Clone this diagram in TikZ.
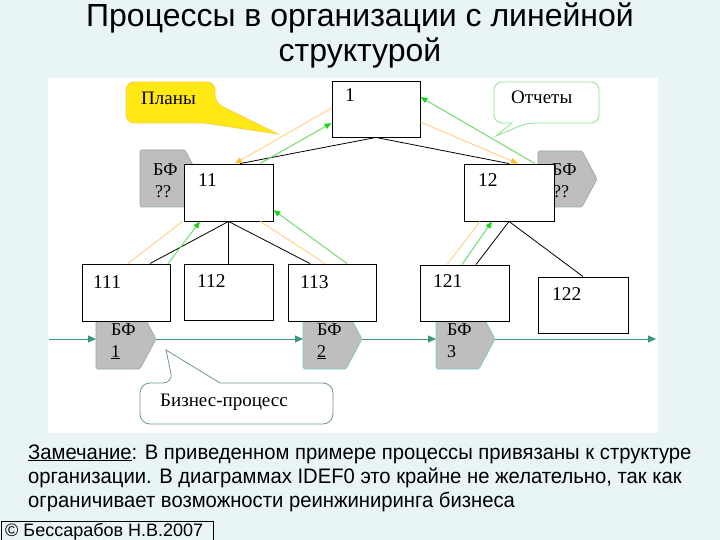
\documentclass[tikz,border=0pt]{standalone}
\usepackage{fontspec}
\setmainfont{Liberation Sans}
\newfontfamily\serifru{Liberation Serif}
\newfontfamily\narrowsans[FakeStretch=0.964]{Liberation Sans}
\usetikzlibrary{arrows.meta,calc}
\definecolor{bgc}{RGB}{233,244,247}
\definecolor{bfgray}{RGB}{190,190,190}
\definecolor{bfborder}{RGB}{150,172,170}
\definecolor{bfteal}{RGB}{120,200,200}
\definecolor{proc}{RGB}{60,150,125}
\definecolor{plan}{RGB}{255,212,140}
\definecolor{plantip}{RGB}{255,190,30}
\definecolor{rep}{RGB}{110,222,110}
\definecolor{reptip}{RGB}{30,210,30}
\definecolor{yel}{RGB}{255,232,20}
\definecolor{yelb}{RGB}{242,210,70}
\definecolor{greenb}{RGB}{150,228,150}
\definecolor{callb}{RGB}{110,152,146}
\begin{document}
\begin{tikzpicture}[x=1pt,y=-1pt,
  box/.style={draw=black, fill=white, line width=0.9pt, inner sep=0pt},
  num/.style={font=\serifru\fontsize{19.5}{19.5}\selectfont, anchor=base west, inner sep=0pt},
  bftxt/.style={font=\serifru\fontsize{18}{18}\selectfont, anchor=base west, inner sep=0pt},
  calltxt/.style={font=\serifru\fontsize{19}{19}\selectfont, anchor=base west, inner sep=0pt},
  notetxt/.style={font=\narrowsans\fontsize{21}{21}\selectfont, anchor=base west, inner sep=0pt},
  bfshape/.style={fill=bfgray, draw=bfborder, line width=0.7pt, rounded corners=1.5pt},
  procline/.style={draw=proc, line width=0.9pt, -{Triangle[length=8pt,width=7pt]}},
  hier/.style={draw=black, line width=0.8pt},
  planline/.style={draw=plan, line width=1pt},
  planarrow/.style={planline, -{Triangle[length=7pt,width=5.5pt,color=plantip]}},
  repline/.style={draw=rep, line width=1pt, -{Triangle[length=7pt,width=5.5pt,color=reptip]}}
]
\useasboundingbox (0,0) rectangle (720,540);
\fill[bgc] (0,0) rectangle (720,540);
\fill[white] (48,78) rectangle (658,433);

% title
\node[font=\fontsize{32}{32}\selectfont, anchor=base, inner sep=0pt] (t1) at (360,27) {Процессы в организации с линейной};
\node[font=\fontsize{32}{32}\selectfont, anchor=base, inner sep=0pt] (t2) at (360,62) {структурой};

% BF shapes
\draw[bfshape] (140,150) -- (185,150) -- (200,178.5) -- (185,207) -- (140,207) -- cycle;
\draw[bfshape] (538,151) -- (582,151) -- (597,179) -- (582,207) -- (538,207) -- cycle;
\draw[bfshape] (96,309) -- (140,309) -- (156,339) -- (140,369) -- (96,369) -- cycle;
\draw[bfshape, draw=bfteal] (303,309) -- (346,309) -- (362,339) -- (346,369) -- (303,369) -- cycle;
\draw[bfshape, draw=bfteal] (436,309) -- (479,309) -- (495,339) -- (479,369) -- (436,369) -- cycle;
\coordinate (pstart) at (49,339);
\coordinate (bf1in) at (96,339);
\coordinate (bf1out) at (156,339);
\coordinate (bf2in) at (303,339);
\coordinate (bf2out) at (362,339);
\coordinate (bf3in) at (436,339);
\coordinate (bf3out) at (495,339);
\coordinate (pend) at (656,339);

\node[bftxt] (bfa1) at (153,176) {БФ};
\node[bftxt] (bfa2) at (155,197) {??};
\node[bftxt] (bfb1) at (552,176) {БФ};
\node[bftxt] (bfb2) at (553,197) {??};
\node[bftxt] (bf1a) at (111,335) {БФ};
\node[bftxt] (bf1b) at (111,357) {\underline{1}};
\node[bftxt] (bf2a) at (317,335) {БФ};
\node[bftxt] (bf2b) at (317,357) {\underline{2}};
\node[bftxt] (bf3a) at (447,335) {БФ};
\node[bftxt] (bf3b) at (447,357) {3};

% boxes
\node[box, minimum width=88pt, minimum height=56pt] (b1) at (376,109) {};
\node[box, minimum width=89pt, minimum height=57pt] (b11) at (228.5,192.5) {};
\node[box, minimum width=90pt, minimum height=57pt] (b12) at (509,192.5) {};
\node[box, minimum width=88pt, minimum height=57pt] (b111) at (126,292.5) {};
\node[box, minimum width=89pt, minimum height=56pt] (b112) at (228.5,292) {};
\node[box, minimum width=88pt, minimum height=57pt] (b113) at (332,292.5) {};
\node[box, minimum width=89pt, minimum height=56pt] (b121) at (464.5,293) {};
\node[box, minimum width=90pt, minimum height=56pt] (b122) at (583,305) {};

\node[num] (l1) at (345,102) {1};
\node[num] (l11) at (198,187) {11};
\node[num] (l12) at (478,187) {12};
\node[num] (l111) at (93,288) {111};
\node[num] (l112) at (197,287) {112};
\node[num] (l113) at (300,288) {113};
\node[num] (l121) at (433,287) {121};
\node[num] (l122) at (552,300) {122};

% process line
\draw[procline] (pstart) -- (bf1in);
\draw[procline] (bf1out) -- (bf2in);
\draw[procline] (bf2out) -- (bf3in);
\draw[procline] (bf3out) -- (pend);

% hierarchy lines
\draw[hier] (b1.south) -- ([xshift=11.5pt]b11.north);
\draw[hier] (b1.south) -- (b12.north);
\draw[hier] (b11.south) -- ([xshift=24pt]b111.north);
\draw[hier] (b11.south) -- (b112.north);
\draw[hier] (b11.south) -- ([xshift=-22pt]b113.north);
\draw[hier] (b12.south) -- ([xshift=11.5pt]b121.north);
\draw[hier] (b12.south) -- (b122.north);

% plans (down)
\draw[planarrow] ([yshift=1pt]b1.west) -- ([xshift=6.5pt]b11.north);
\draw[planarrow] ([yshift=-13pt]b1.east) -- ([xshift=9pt]b12.north);
\draw[planline] ([xshift=-1pt]b11.south west) -- ([xshift=2pt]b111.north);
\draw[planline] ([xshift=-13pt]b11.south east) -- ([xshift=-7pt]b113.north);
\draw[planline] ([xshift=-29pt]b12.south) -- ([xshift=-17.5pt]b121.north);

% reports (up)
\draw[repline] ([xshift=31.5pt]b11.north) -- ([yshift=-14pt]b1.west);
\draw[repline] ([xshift=26pt]b12.north) -- ([yshift=12pt]b1.east);
\draw[repline] ([xshift=42pt]b111.north) -- ([xshift=-28.5pt]b11.south);
\draw[repline] ([xshift=15pt]b113.north) -- ([yshift=-17.5pt]b11.east);
\draw[repline] ([xshift=-2.5pt]b121.north) -- ([xshift=-17pt]b12.south);

% callouts
\draw[fill=yel, draw=yelb, line width=0.8pt] (126,100) [rounded corners=8pt] -- (126,82) -- (215,82) -- (215,103) [sharp corners] -- (278,134) -- (204,123) [rounded corners=8pt] -- (126,123) -- (126,100);
\node[calltxt] (plans) at (141,105) {Планы};

\draw[fill=white, draw=greenb, line width=0.9pt] (494,100) [rounded corners=8pt] -- (494,82) -- (599,82) -- (599,123) -- (527,123) [sharp corners] -- (496,136) -- (512,123) [rounded corners=8pt] -- (494,123) -- (494,100);
\node[calltxt] (reports) at (511,104) {Отчеты};

\draw[fill=white, draw=callb, line width=0.8pt] (140,403) [rounded corners=10pt] -- (140,383) -- (173,383) [sharp corners] -- (166,350) -- (220,383) [rounded corners=10pt] -- (333,383) -- (333,424) -- (140,424) -- (140,403);
\node[calltxt] (bp) at (160,406) {Бизнес-процесс};

% note text
\node[notetxt] (n1) at (28,459) {\underline{Замечание}: В приведенном примере процессы привязаны к структуре};
\node[notetxt] (n2) at (28,483) {организации. В диаграммах IDEF0 это крайне не желательно, так как};
\node[notetxt] (n3) at (28,507) {ограничивает возможности реинжиниринга бизнеса};

% footer
\draw[black, line width=0.9pt] (1,541) -- (1,521) -- (213,521) -- (213,541);
\node[font=\fontsize{18}{18}\selectfont, anchor=base west, inner sep=0pt] (foot) at (5,536.5) {© Бессарабов Н.В.2007};
\end{tikzpicture}
\end{document}
